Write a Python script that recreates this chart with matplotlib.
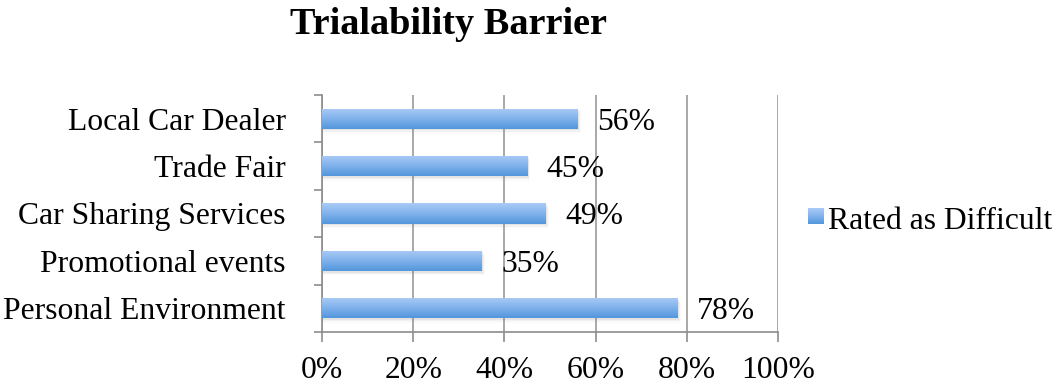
import numpy as np
import matplotlib.pyplot as plt
from matplotlib.colors import LinearSegmentedColormap
from matplotlib.patches import Rectangle

categories = ["Personal Environment", "Promotional events", "Car Sharing Services",
              "Trade Fair", "Local Car Dealer"]
values = [78, 35, 49, 45, 56]
xticks = [0, 20, 40, 60, 80, 100]
series_name = "Rated as Difficult"
title = "Trialability Barrier"

plt.rcParams['font.family'] = ['Liberation Serif', 'DejaVu Serif']
FS = 22.8

fig = plt.figure(figsize=(10.6, 3.9), dpi=100)
ax = fig.add_axes([322/1060, 1 - 332/390, 456/1060, 237/390])

y = np.arange(len(categories))
bar_h = 0.43
grad = LinearSegmentedColormap.from_list("g", ["#aacbf6", "#81b2ec", "#5296dc"])

# soft shadow under each bar
for yi, v in zip(y, values):
    for k, a in enumerate([0.10, 0.07, 0.04]):
        ax.add_patch(Rectangle((0, yi - bar_h/2 - 0.03 - 0.03*k), v + 0.3 + 0.2*k, bar_h,
                               facecolor="#808080", alpha=a, edgecolor="none", zorder=2))

bars = ax.barh(y, values, height=bar_h, color="#79aae8", edgecolor="none", zorder=3)
gimg = np.linspace(0, 1, 100).reshape(-1, 1)
for b in bars:
    x0, y0 = b.get_x(), b.get_y()
    w, h = b.get_width(), b.get_height()
    im = ax.imshow(gimg, cmap=grad, aspect="auto", extent=(x0, x0 + w, y0, y0 + h),
                   origin="upper", zorder=4)
    im.set_clip_path(b)

for yi, v in zip(y, values):
    ax.text(v + 4.3, yi, f"{v}%", va="center_baseline", ha="left", fontsize=FS, zorder=5)

ax.set_xlim(0, 100)
ax.set_ylim(-0.5, len(categories) - 0.5)
ax.set_xticks(xticks)
ax.set_xticklabels([f"{t}%" for t in xticks], fontsize=FS)
ax.set_yticks(y)
ax.set_yticklabels(categories, fontsize=FS, va="center_baseline")
ax.set_yticks(np.arange(-0.5, len(categories)), minor=True)
ax.tick_params(axis="y", which="major", length=0, pad=26)
ax.tick_params(axis="y", which="minor", length=6, width=1.2, color="#8c8c8c")
ax.tick_params(axis="x", which="major", length=7, width=1.2, color="#8c8c8c", pad=10)
ax.grid(axis="x", color="#9a9a9a", linewidth=1.2, zorder=0)
ax.set_axisbelow(True)
for s in ["top", "right"]:
    ax.spines[s].set_visible(False)
for s in ["left", "bottom"]:
    ax.spines[s].set_color("#8c8c8c")
    ax.spines[s].set_linewidth(1.2)

# legend
lx, ly = 808/1060, 1 - 224/390
lax = fig.add_axes([lx, ly, 16/1060, 16/390])
lax.imshow(gimg, cmap=grad, aspect="auto")
lax.axis("off")
fig.text(828/1060, 1 - 218/390, series_name, va="center_baseline", ha="left", fontsize=FS)

fig.text(448/1060, 1 - 24/390, title, ha="center", va="center", fontsize=27.5,
         fontweight="bold")

fig.savefig("out.png", dpi=100)
